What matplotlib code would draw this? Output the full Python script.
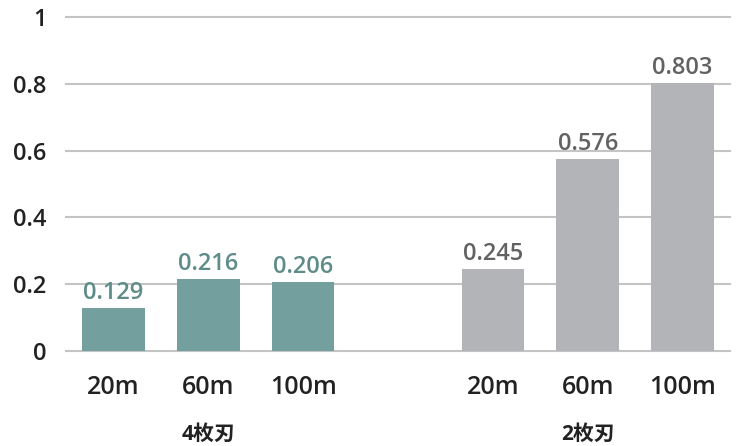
import matplotlib
matplotlib.use('Agg')
import matplotlib.pyplot as plt

plt.rcParams['font.family'] = ['Open Sans', 'Noto Sans CJK JP', 'DejaVu Sans']

# bar data: two blade types, three distances each
groups = ['4枚刃', '2枚刃']
distances = ['20m', '60m', '100m']
four_blade = [0.129, 0.216, 0.206]
two_blade = [0.245, 0.576, 0.803]

teal = '#73a09e'
teal_text = '#5e8c89'
grey = '#b3b4b7'
grey_text = '#626262'

fig = plt.figure(figsize=(7.37, 4.46), dpi=100)
ax = fig.add_axes([0.0896, 0.213, 0.901, 0.749])

pos_a = [0, 1, 2]
pos_b = [4, 5, 6]
width = 0.66

bars_a = ax.bar(pos_a, four_blade, width=width, color=teal, zorder=3)
bars_b = ax.bar(pos_b, two_blade, width=width, color=grey, zorder=3)

for bars, vals, col in [(bars_a, four_blade, teal_text), (bars_b, two_blade, grey_text)]:
    for b, v in zip(bars, vals):
        ax.annotate('{:.3f}'.format(v), (b.get_x() + b.get_width() / 2, v),
                    xytext=(0, 2), textcoords='offset points',
                    ha='center', va='bottom', fontsize=17, fontweight=600,
                    color=col, zorder=4)

ax.set_xlim(-0.5, 6.5)
ax.set_ylim(0, 1)
ax.set_yticks([0, 0.2, 0.4, 0.6, 0.8, 1.0])
ax.set_yticklabels(['0', '0.2', '0.4', '0.6', '0.8', '1'])
ax.set_xticks(pos_a + pos_b)
ax.set_xticklabels(distances + distances)
ax.tick_params(axis='both', length=0, labelsize=17, colors='#222222')
ax.tick_params(axis='x', pad=17)
ax.tick_params(axis='y', pad=14)
for lbl in ax.get_xticklabels() + ax.get_yticklabels():
    lbl.set_fontweight(600)
for lbl in ax.get_xticklabels():
    lbl.set_fontsize(18)

for y in [0, 0.2, 0.4, 0.6, 0.8, 1.0]:
    ax.axhline(y, color='#c4c4c4', linewidth=1.5, zorder=1, clip_on=False)

for s in ax.spines.values():
    s.set_visible(False)

# group names under the distance labels
for name, p in zip(groups, [1, 5]):
    ax.text(p, -0.25, name, transform=ax.transData, ha='center', va='center',
            fontsize=15, fontweight='bold', color='#222222')

fig.savefig('out.png', dpi=100)
